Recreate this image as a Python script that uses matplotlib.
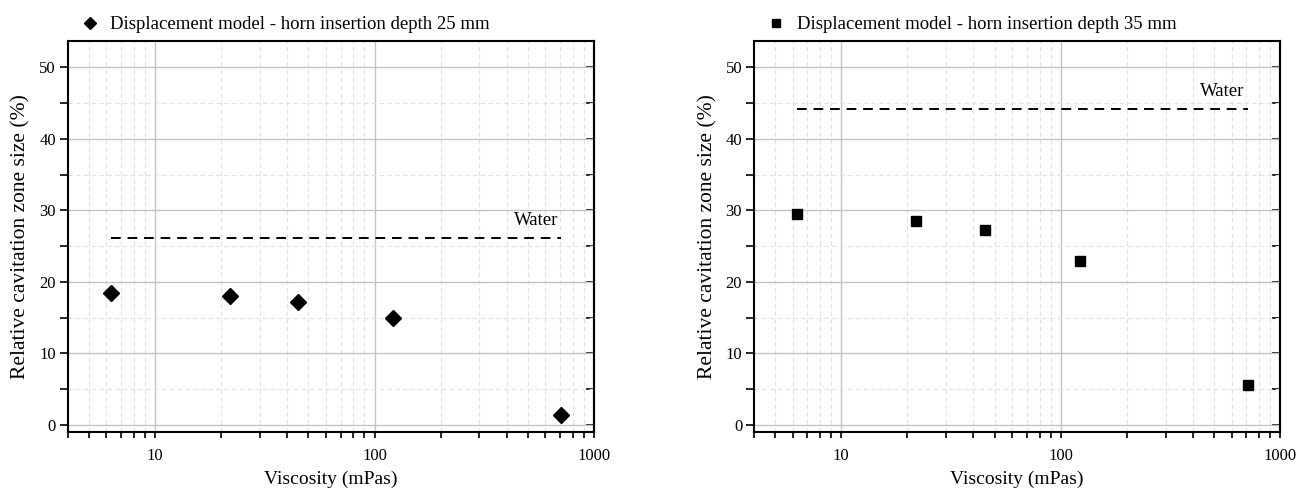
import numpy as np
import matplotlib
matplotlib.use("Agg")
import matplotlib.pyplot as plt
from matplotlib.ticker import LogLocator, MultipleLocator, FixedLocator, FixedFormatter, NullFormatter

plt.rcParams['font.family'] = ['Liberation Serif', 'DejaVu Serif']

# viscosity of the test fluids (mPas)
viscosity = [6.3, 22, 45, 122, 710]

# relative cavitation zone size (%) from the displacement model
zone_25mm = [18.5, 18.05, 17.2, 15.0, 1.4]
zone_35mm = [29.5, 28.5, 27.3, 22.95, 5.6]

# reference value for water
water_25mm = 26.2
water_35mm = 44.2

labels = ['Displacement model - horn insertion depth 25 mm',
          'Displacement model - horn insertion depth 35 mm']
markers = ['D', 's']
msizes = [8, 6.5]

fig = plt.figure(figsize=(12.97, 4.91), dpi=100)
ax1 = fig.add_axes([0.0522, 0.1202, 0.4058, 0.7963])
ax2 = fig.add_axes([0.5813, 0.1202, 0.4058, 0.7963])


def style_axes(ax):
    ax.set_xscale('log')
    ax.set_xlim(4, 1000)
    ax.set_ylim(-1, 53.7)
    ax.xaxis.set_major_locator(FixedLocator([10, 100, 1000]))
    ax.xaxis.set_major_formatter(FixedFormatter(['10', '100', '1000']))
    ax.xaxis.set_minor_locator(LogLocator(base=10, subs=np.arange(2, 10)))
    ax.xaxis.set_minor_formatter(NullFormatter())
    ax.yaxis.set_major_locator(MultipleLocator(10))
    ax.yaxis.set_minor_locator(MultipleLocator(5))
    ax.grid(which='major', color='#c4c4c4', lw=1.0, ls='-')
    ax.grid(which='minor', color='#e0e0e0', lw=0.8, ls=(0, (4, 3)))
    ax.set_axisbelow(True)
    for s in ax.spines.values():
        s.set_linewidth(1.5)
    ax.tick_params(axis='x', which='both', direction='out', length=4.5, width=1.2,
                   top=False, labelsize=12, pad=7)
    ax.tick_params(axis='y', which='both', direction='out', length=5.5, width=1.2,
                   labelsize=12, pad=3)
    # right-hand ticks point into the plot
    sec = ax.secondary_yaxis('right')
    sec.yaxis.set_major_locator(MultipleLocator(10))
    sec.yaxis.set_minor_locator(MultipleLocator(5))
    sec.tick_params(axis='y', which='both', direction='in', length=5.5, width=1.2,
                    labelright=False)
    sec.spines['right'].set_linewidth(1.5)
    ax.set_xlabel('Viscosity (mPas)', fontsize=14, labelpad=5)
    ax.set_ylabel('Relative cavitation zone size (%)', fontsize=15.5, labelpad=6)


for ax, zone, water, lab, mk, ms in zip([ax1, ax2], [zone_25mm, zone_35mm],
                                        [water_25mm, water_35mm], labels, markers, msizes):
    style_axes(ax)
    ax.plot(viscosity, zone, ls='none', marker=mk, ms=ms, color='black', label=lab)
    ax.plot([viscosity[0], viscosity[-1]], [water, water], color='black',
            lw=1.4, ls=(0, (5, 3.5)))
    ax.text(viscosity[-1] * 0.97, water + 1.2, 'Water', ha='right', va='bottom',
            fontsize=13.5)
    ax.legend(loc='lower left', bbox_to_anchor=(0.01, 1.0), frameon=False,
              fontsize=13.5, handletextpad=0.6, borderaxespad=0.2, handlelength=1.0,
              borderpad=0.2, markerscale=0.8)

fig.savefig('out.png', dpi=100)
